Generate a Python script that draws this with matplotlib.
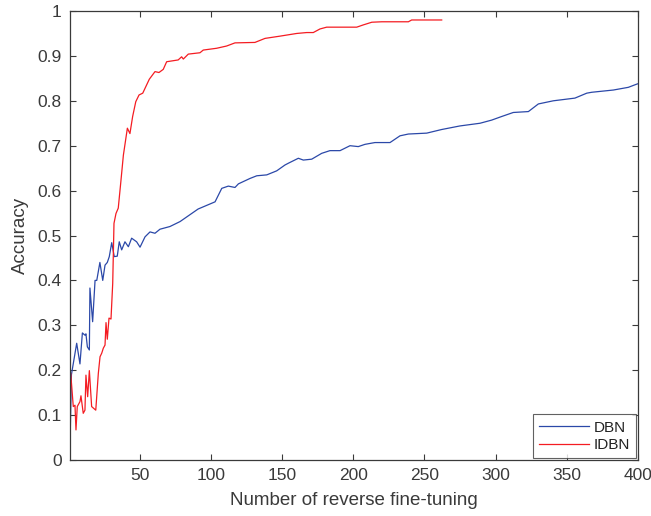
import numpy as np
import matplotlib
matplotlib.use("Agg")
import matplotlib.pyplot as plt

# values
dbn_x = [1, 2, 5.7, 8, 9.7, 11.5, 12.2, 13.2, 14.6, 15, 16.9, 18.6, 19.8, 22, 24, 25.6, 27.2,
         28.6, 30.3, 32.1, 34.2, 35.6, 37.3, 39.6, 42, 44.3, 47.8, 50.2, 53.7, 57.2, 60.7,
         64.2, 71.2, 78.3, 91, 102.9, 107.6, 112.2, 116.9, 119.3, 127.4, 132.2, 139.2, 146.2,
         152, 154.4, 161.4, 164.9, 170.8, 177.8, 183.6, 190.7, 197.7, 203.5, 208.2, 215.2,
         225.8, 232.8, 238.7, 251.6, 262, 274.9, 289, 297.2, 304.2, 312.4, 323, 330, 340.5,
         355.7, 364, 367.5, 382.7, 393.2, 399, 400]
dbn_y = [0.033, 0.19, 0.26, 0.214, 0.283, 0.278, 0.281, 0.252, 0.245, 0.383, 0.308, 0.40, 0.40,
         0.44, 0.40, 0.434, 0.44, 0.453, 0.484, 0.453, 0.454, 0.486, 0.468, 0.486, 0.475, 0.494,
         0.486, 0.474, 0.497, 0.508, 0.505, 0.514, 0.52, 0.531, 0.559, 0.575, 0.605, 0.61,
         0.607, 0.615, 0.627, 0.633, 0.635, 0.644, 0.657, 0.661, 0.672, 0.668, 0.67, 0.683,
         0.689, 0.689, 0.70, 0.698, 0.703, 0.707, 0.707, 0.722, 0.726, 0.728, 0.736, 0.744,
         0.75, 0.757, 0.765, 0.774, 0.776, 0.793, 0.80, 0.806, 0.817, 0.819, 0.824, 0.83,
         0.837, 0.838]

idbn_x = [1.5, 3.3, 4.5, 5.2, 6.1, 8, 8.7, 10.3, 11.5, 12.2, 13.4, 14.6, 16.2, 19.1, 20.9,
          22.1, 23.3, 24.4, 25.6, 26.3, 27.2, 28.4, 29.8, 31, 31.9, 33.3, 34.9, 36.6, 38.5,
          41.3, 43.1, 45, 47.2, 49.5, 52.1, 56.7, 60.7, 63.5, 66.5, 68.9, 77, 79.4, 80.6,
          84.1, 92.3, 94.6, 104, 111, 116.9, 130.9, 138, 148.5, 160.3, 167.3, 171.9, 176.6,
          181.3, 202.4, 207, 213, 220, 238.7, 241, 262.1]
idbn_y = [0.193, 0.119, 0.122, 0.067, 0.119, 0.13, 0.143, 0.104, 0.111, 0.189, 0.141, 0.199,
          0.119, 0.111, 0.193, 0.23, 0.238, 0.249, 0.256, 0.306, 0.269, 0.316, 0.314, 0.393,
          0.527, 0.549, 0.561, 0.616, 0.679, 0.739, 0.727, 0.765, 0.798, 0.813, 0.817, 0.848,
          0.865, 0.863, 0.87, 0.887, 0.891, 0.898, 0.893, 0.904, 0.907, 0.913, 0.917, 0.922,
          0.929, 0.93, 0.939, 0.944, 0.95, 0.952, 0.952, 0.96, 0.964, 0.964, 0.969, 0.975,
          0.976, 0.976, 0.98, 0.98]

x_ticks = [50, 100, 150, 200, 250, 300, 350, 400]
y_ticks = [0, 0.1, 0.2, 0.3, 0.4, 0.5, 0.6, 0.7, 0.8, 0.9, 1]
y_tick_labels = ["0", "0.1", "0.2", "0.3", "0.4", "0.5", "0.6", "0.7", "0.8", "0.9", "1"]

plt.rcParams['font.family'] = ['Liberation Sans', 'DejaVu Sans']
grey = '#3a3a3a'

fig = plt.figure(figsize=(6.51, 5.16), dpi=100)
ax = fig.add_axes([70 / 651, 1 - 460 / 516, 568 / 651, 449 / 516])

ax.plot(dbn_x, dbn_y, color='#2b48a8', lw=0.9, label='DBN')
ax.plot(idbn_x, idbn_y, color='#f41c22', lw=0.9, label='IDBN')

ax.set_xlim(1, 400)
ax.set_ylim(0, 1)
ax.set_xticks(x_ticks)
ax.set_yticks(y_ticks)
ax.set_yticklabels(y_tick_labels)
ax.tick_params(direction='in', length=4.5, width=0.8, colors=grey, labelsize=12.5,
               top=True, right=True, pad=6)
for s in ax.spines.values():
    s.set_color(grey)
    s.set_linewidth(0.9)

ax.set_xlabel('Number of reverse fine-tuning', fontsize=13.5, color=grey, labelpad=6)
ax.set_ylabel('Accuracy', fontsize=13.5, color=grey, labelpad=6)

leg = ax.legend(loc='lower right', fontsize=11, frameon=True, fancybox=False,
                borderaxespad=0.1, handlelength=3.3, handletextpad=0.3,
                borderpad=0.4, labelspacing=0.25)
leg.get_frame().set_edgecolor(grey)
leg.get_frame().set_linewidth(0.8)
for t in leg.get_texts():
    t.set_color('#222222')

fig.savefig('out.png', dpi=100)
